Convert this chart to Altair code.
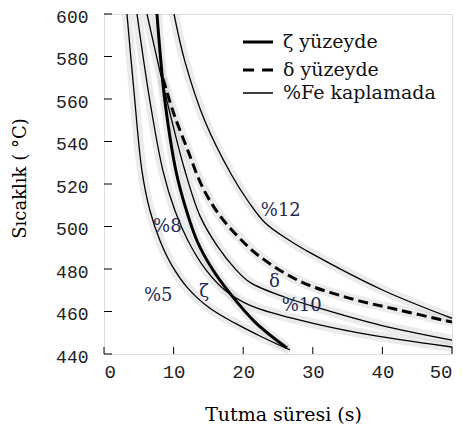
import altair as alt
import pandas as pd

# axis ticks
x_ticks = [0, 10, 20, 30, 40, 50]
y_ticks = [440, 460, 480, 500, 520, 540, 560, 580, 600]

# curves (time s, temperature C)
fe5_t = [3.30, 4.31, 5.46, 6.61, 8.05, 9.77, 12.07, 15.23, 18.82, 22.70, 26.72]
fe5_T = [600, 563.5, 526.1, 507.4, 493.3, 481.6, 470.9, 461.5, 454.5, 448.0, 441.9]

fe8_t = [4.74, 6.61, 8.48, 10.20, 12.07, 14.51, 17.39, 20.98, 28.16, 36.78, 50]
fe8_T = [600, 558.8, 526.1, 507.4, 493.3, 480.2, 470.0, 462.9, 455.9, 449.8, 443.3]

fe10_t = [6.18, 8.05, 9.77, 11.64, 13.79, 16.24, 18.82, 20.98, 26.01, 31.03, 39.66, 50]
fe10_T = [600, 572.9, 549.5, 526.1, 505.0, 491.0, 480.2, 473.7, 466.7, 461.5, 453.6, 446.5]

fe12_t = [10.06, 11.64, 14.51, 18.25, 20.69, 23.13, 26.72, 29.60, 40.09, 50]
fe12_T = [600, 577.5, 549.5, 524.7, 512.0, 501.8, 493.3, 487.7, 470.0, 456.8]

zeta_t = [7.61, 8.05, 8.76, 10.34, 11.64, 13.36, 15.52, 18.10, 21.70, 26.29]
zeta_T = [600, 582.2, 558.8, 526.1, 509.7, 493.3, 480.2, 468.5, 455.0, 442.8]

delta_t = [8.48, 9.91, 11.93, 14.22, 16.67, 19.54, 22.41, 28.16, 35.34, 42.53, 50]
delta_T = [569.6, 554.2, 536.8, 518.1, 505.0, 494.3, 485.8, 474.2, 466.2, 460.6, 455.0]

# legend entries
legend_labels = ["ζ  yüzeyde", "δ  yüzeyde", "%Fe kaplamada"]

# curve labels
lab_text = ["%12", "%8", "%5", "ζ", "δ", "%10"]
lab_t = [25.4, 9.1, 7.8, 14.4, 24.5, 28.4]
lab_T = [507.4, 499.9, 467.1, 469.0, 473.7, 462.5]

SERIF = "DejaVu Serif"

thin_rows, thick_rows = [], []
for name, ts, Ts in [("fe5", fe5_t, fe5_T), ("fe8", fe8_t, fe8_T),
                     ("fe10", fe10_t, fe10_T), ("fe12", fe12_t, fe12_T)]:
    for i, (t, T) in enumerate(zip(ts, Ts)):
        thin_rows.append({"curve": name, "t": t, "T": T, "ord": i})
for name, ts, Ts in [("zeta", zeta_t, zeta_T), ("delta", delta_t, delta_T)]:
    for i, (t, T) in enumerate(zip(ts, Ts)):
        thick_rows.append({"curve": name, "t": t, "T": T, "ord": i})
thin = pd.DataFrame(thin_rows)
thick = pd.DataFrame(thick_rows)
allc = pd.concat([thin, thick], ignore_index=True)

xs = alt.Scale(domain=[0, 50], nice=False, zero=False)
ys = alt.Scale(domain=[440, 600], nice=False, zero=False)

X = alt.X("t:Q", scale=xs, title="Tutma süresi (s)",
          axis=alt.Axis(values=x_ticks, ticks=False, domain=False, grid=False,
                        labelFont="Liberation Mono", labelFontSize=19, labelColor="#222",
                        labelPadding=8, titleFont=SERIF, titleFontSize=19,
                        titleFontWeight="normal", titleColor="black", titlePadding=24,
                        titleX=179))
Y = alt.Y("T:Q", scale=ys, title="Sıcaklık ( °C)",
          axis=alt.Axis(values=y_ticks, ticks=False, domain=False, grid=False,
                        labelFont="Liberation Mono", labelFontSize=18, labelColor="#222",
                        labelPadding=16, labelOffset=3, titleFont=SERIF, titleFontSize=18,
                        titleFontWeight="normal", titleColor="black", titlePadding=26,
                        titleY=164))

halo = alt.Chart(allc).mark_line(interpolate="catmull-rom", color="#cccccc", strokeWidth=10,
                                 opacity=0.4, clip=True).encode(
    x=X, y=Y, detail="curve:N", order="ord:Q")

thin_lines = alt.Chart(thin).mark_line(interpolate="catmull-rom", color="black",
                                       strokeWidth=1.3, clip=True).encode(
    x=X, y=Y, detail="curve:N", order="ord:Q")

zeta_line = alt.Chart(thick).transform_filter(alt.datum.curve == "zeta").mark_line(
    interpolate="catmull-rom", color="black", strokeWidth=3, clip=True).encode(
    x=X, y=Y, order="ord:Q")
delta_line = alt.Chart(thick).transform_filter(alt.datum.curve == "delta").mark_line(
    interpolate="catmull-rom", color="black", strokeWidth=3, strokeDash=[10, 5], clip=True).encode(
    x=X, y=Y, order="ord:Q")

ldf = pd.DataFrame({"text": lab_text, "t": lab_t, "T": lab_T})
labels = alt.Chart(ldf).mark_text(font=SERIF, fontSize=18, color="#1d2a55",
                                  align="center", baseline="middle").encode(
    x=alt.X("t:Q", scale=xs), y=alt.Y("T:Q", scale=ys), text="text:N")

ytk = alt.Chart(pd.DataFrame({"T": y_ticks})).mark_rule(color="black", strokeWidth=1).encode(
    y=alt.Y("T:Q", scale=ys), x=alt.value(0), x2=alt.value(8))
xtk = alt.Chart(pd.DataFrame({"t": x_ticks})).mark_rule(color="black", strokeWidth=1).encode(
    x=alt.X("t:Q", scale=xs), y=alt.value(340), y2=alt.value(333))

# legend (inside plot, top right)
leg_y = [28, 56, 79]
leg_sym = []
for i, (w, dash) in enumerate([(3, [1, 0]), (3, [11, 8]), (1.3, [1, 0])]):
    leg_sym.append(alt.Chart(pd.DataFrame({"k": [legend_labels[i]]})).mark_rule(
        color="black", strokeWidth=w, strokeDash=dash).encode(
        x=alt.value(139), x2=alt.value(169), y=alt.value(leg_y[i])))
    leg_sym.append(alt.Chart(pd.DataFrame({"k": [legend_labels[i]]})).mark_text(
        font=SERIF, fontSize=19, color="#111", align="left", baseline="middle").encode(
        x=alt.value(179), y=alt.value(leg_y[i]), text="k:N"))

chart = alt.layer(halo, thin_lines, zeta_line, delta_line, ytk, xtk, labels, *leg_sym).properties(
    width=348, height=340,
    padding={"left": 96, "top": 6, "right": 2, "bottom": 70},
    autosize="none",
).configure_view(stroke="black", strokeWidth=2).configure(background="white")

chart.save("out.html", embed_options={"renderer": "svg", "actions": False})
